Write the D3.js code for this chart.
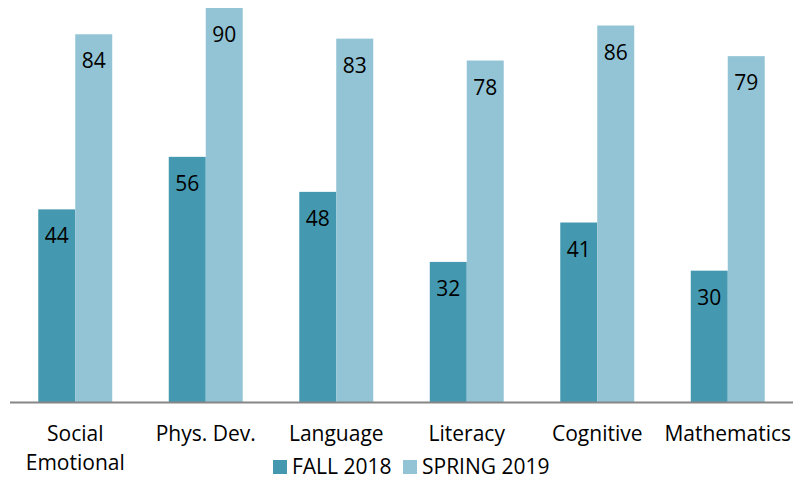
<!DOCTYPE html>
<html lang="en">
<head>
<meta charset="UTF-8">
<title>Fall 2018 vs Spring 2019</title>
<script src="https://cdn.jsdelivr.net/npm/d3@7"></script>
<style>
  body { margin: 0; background: #fff; }
  text { font-family: "Open Sans", sans-serif; fill: #000; }
</style>
</head>
<body>
<div id="chart"></div>
<script>
// data
const categories = ["Social Emotional", "Phys. Dev.", "Language", "Literacy", "Cognitive", "Mathematics"];
const seriesNames = ["FALL 2018", "SPRING 2019"];
const fall2018 = [44, 56, 48, 32, 41, 30];
const spring2019 = [84, 90, 83, 78, 86, 79];
const seriesColors = ["#4499b0", "#93c4d5"];

const width = 811, height = 481;
const baseY = 402, topY = 8;

const svg = d3.select("#chart").append("svg")
    .attr("width", width)
    .attr("height", height);

const x0 = d3.scaleBand()
    .domain(categories)
    .range([10, 793])
    .paddingInner(0)
    .paddingOuter(0);

// two 37px bars centred in each 130px band
const x1 = d3.scaleBand()
    .domain(seriesNames)
    .range([0, x0.bandwidth()])
    .paddingInner(0)
    .paddingOuter(0.764);

const y = d3.scaleLinear()
    .domain([0, 90])
    .range([baseY, topY]);

const rows = categories.map((c, i) => ({cat: c, vals: [fall2018[i], spring2019[i]]}));

const groups = svg.selectAll("g.cat")
    .data(rows)
    .join("g")
    .attr("class", "cat")
    .attr("transform", d => `translate(${x0(d.cat)},0)`);

const bars = groups.selectAll("g.bar")
    .data(d => d.vals.map((v, j) => ({series: seriesNames[j], v: v, j: j})))
    .join("g")
    .attr("class", "bar");

bars.append("rect")
    .attr("x", d => x1(d.series))
    .attr("y", d => y(d.v))
    .attr("width", x1.bandwidth())
    .attr("height", d => baseY - y(d.v))
    .attr("fill", d => seriesColors[d.j]);

bars.append("text")
    .attr("x", d => x1(d.series) + x1.bandwidth() / 2)
    .attr("y", d => y(d.v) + 34)
    .attr("text-anchor", "middle")
    .style("font-size", "21px")
    .text(d => d.v);

// x axis line
svg.append("line")
    .attr("x1", x0.range()[0]).attr("x2", x0.range()[1])
    .attr("y1", baseY + 0.5).attr("y2", baseY + 0.5)
    .attr("stroke", "#868686")
    .attr("stroke-width", 2);

// category labels, wrapped on two lines where needed
const wrap = {"Social Emotional": ["Social", "Emotional"]};
svg.selectAll("text.cat")
    .data(categories)
    .join("text")
    .attr("class", "cat")
    .attr("text-anchor", "middle")
    .attr("x", d => x0(d) + x0.bandwidth() / 2)
    .attr("y", 441)
    .style("font-size", "21px")
    .each(function(d) {
        const lines = wrap[d] || [d];
        d3.select(this).selectAll("tspan")
            .data(lines)
            .join("tspan")
            .attr("x", x0(d) + x0.bandwidth() / 2)
            .attr("dy", (l, i) => i ? 29 : 0)
            .text(l => l);
    });

// legend
const legend = svg.append("g").attr("transform", "translate(273,460)");
const legendX = [0, 130];
seriesNames.forEach((s, i) => {
    legend.append("rect")
        .attr("x", legendX[i]).attr("y", 0)
        .attr("width", 14).attr("height", 14)
        .attr("fill", seriesColors[i]);
    legend.append("text")
        .attr("x", legendX[i] + 19).attr("y", 14)
        .style("font-size", "21px")
        .text(s);
});
</script>
</body>
</html>
